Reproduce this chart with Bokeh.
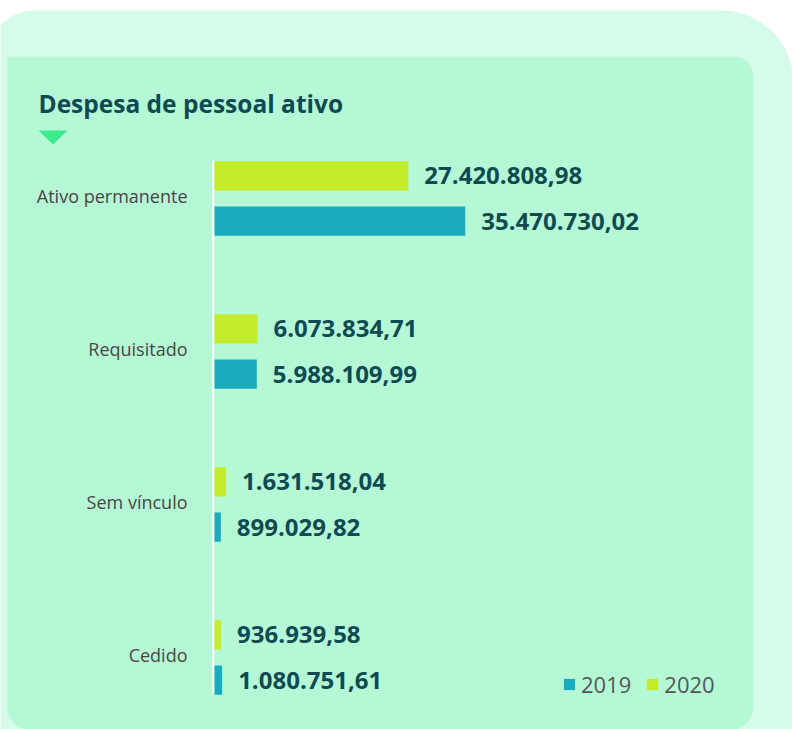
from bokeh.plotting import figure
from bokeh.models import (Range1d, ColumnDataSource, BoxAnnotation, PolyAnnotation,
                          Label, Legend, LegendItem)
from bokeh.core.properties import value
from bokeh.embed import file_html
from bokeh.resources import INLINE

# ---- data ----
categories = ["Ativo permanente", "Requisitado", "Sem vínculo", "Cedido"]
years = ["2019", "2020"]
values_2019 = [35470730.02, 5988109.99, 899029.82, 1080751.61]
values_2020 = [27420808.98, 6073834.71, 1631518.04, 936939.58]
title_text = "Despesa de pessoal ativo"

COL_2019 = "#1aabbd"
COL_2020 = "#c2ec2c"
PANEL = "#b5f8d5"
OUTER = "#d6fbe8"
DARK = "#0e4a52"
GREY = "#4a4444"


def br(v):
    return f"{v:,.2f}".replace(",", "X").replace(".", ",").replace("X", ".")


pos = list(range(len(categories)))          # 0 = top category
off = 0.148                                  # half distance between the two bars of a group
src = ColumnDataSource(dict(
    cat=categories,
    pos=pos,
    y2020=[q - off for q in pos],
    y2019=[q + off for q in pos],
    v2019=values_2019,
    v2020=values_2020,
    l2019=[br(v) for v in values_2019],
    l2020=[br(v) for v in values_2020],
))

W, H = 792, 729
X0 = 214            # pixel of value 0
PX_PER_UNIT = 7.07e-6
Y0 = 198.0          # pixel of first category centre
PX_PER_CAT = 153.0

x_range = Range1d(-X0 / PX_PER_UNIT, (W - X0) / PX_PER_UNIT)
y_range = Range1d((H - Y0) / PX_PER_CAT, -Y0 / PX_PER_CAT)   # flipped: first category on top

p = figure(width=W, height=H, x_range=x_range, y_range=y_range,
           output_backend="svg", toolbar_location=None,
           x_axis_location=None, y_axis_location=None, min_border=0)
p.background_fill_color = "white"
p.border_fill_color = "white"
p.outline_line_color = None
p.grid.visible = False

# background panels
outer = BoxAnnotation(left=-12, right=W + 1, top=10, bottom=H + 60,
                      left_units="canvas", right_units="canvas", top_units="canvas", bottom_units="canvas",
                      fill_color=OUTER, fill_alpha=1, line_color=None, level="underlay",
                      border_radius=dict(top_left=46, top_right=72, bottom_right=0, bottom_left=0))
inner = BoxAnnotation(left=7, right=753, top=56, bottom=H,
                      left_units="canvas", right_units="canvas", top_units="canvas", bottom_units="canvas",
                      fill_color=PANEL, fill_alpha=1, line_color=None, level="underlay",
                      border_radius=dict(top_left=0, top_right=20, bottom_right=22, bottom_left=22))
p.add_layout(outer)
p.add_layout(inner)

tri = PolyAnnotation(xs=[38, 67, 52.5], ys=[130, 130, 144], xs_units="canvas", ys_units="canvas",
                     fill_color="#3dea8e", fill_alpha=1, line_color=None, level="underlay")
p.add_layout(tri)

title = Label(x=38, y=103, x_units="canvas", y_units="canvas", text=title_text,
              text_font="Open Sans", text_font_style="bold", text_font_size="24.5px",
              text_color=DARK, text_baseline="middle")
p.add_layout(title)

# axis line (white)
p.segment(x0=[-1.2 / PX_PER_UNIT], x1=[-1.2 / PX_PER_UNIT],
          y0=[pos[0] - 0.248], y1=[pos[-1] + 0.235], line_color="white", line_width=2)

# bars
r20 = p.hbar(y="y2020", right="v2020", left=0, height=0.19,
             source=src, fill_color=COL_2020, line_color=None)
r19 = p.hbar(y="y2019", right="v2019", left=0, height=0.19,
             source=src, fill_color=COL_2019, line_color=None)

for col, lab, yy in (("v2020", "l2020", "y2020"), ("v2019", "l2019", "y2019")):
    p.text(x=col, y=yy, text=lab, source=src,
           x_offset=16, text_baseline="middle", text_align="left",
           text_font=value("Open Sans"), text_font_style="bold", text_font_size="24px",
           text_color=DARK)

# category labels
p.text(x=0, y="pos", text="cat", source=src, x_offset=-27, y_offset=-3, text_align="right",
       text_baseline="middle", text_font=value("Open Sans"), text_font_size="18px",
       text_color=GREY)

legend = Legend(items=[LegendItem(label=years[0], renderers=[r19]),
                       LegendItem(label=years[1], renderers=[r20])],
                orientation="horizontal", location=(562, 30),
                glyph_width=14, glyph_height=14, label_standoff=5, spacing=14,
                padding=0, margin=0, background_fill_alpha=0, border_line_color=None,
                label_text_font="Open Sans", label_text_font_size="22px",
                label_text_color="#555555")
p.add_layout(legend)

open("out.html", "w").write(file_html(p, INLINE))
